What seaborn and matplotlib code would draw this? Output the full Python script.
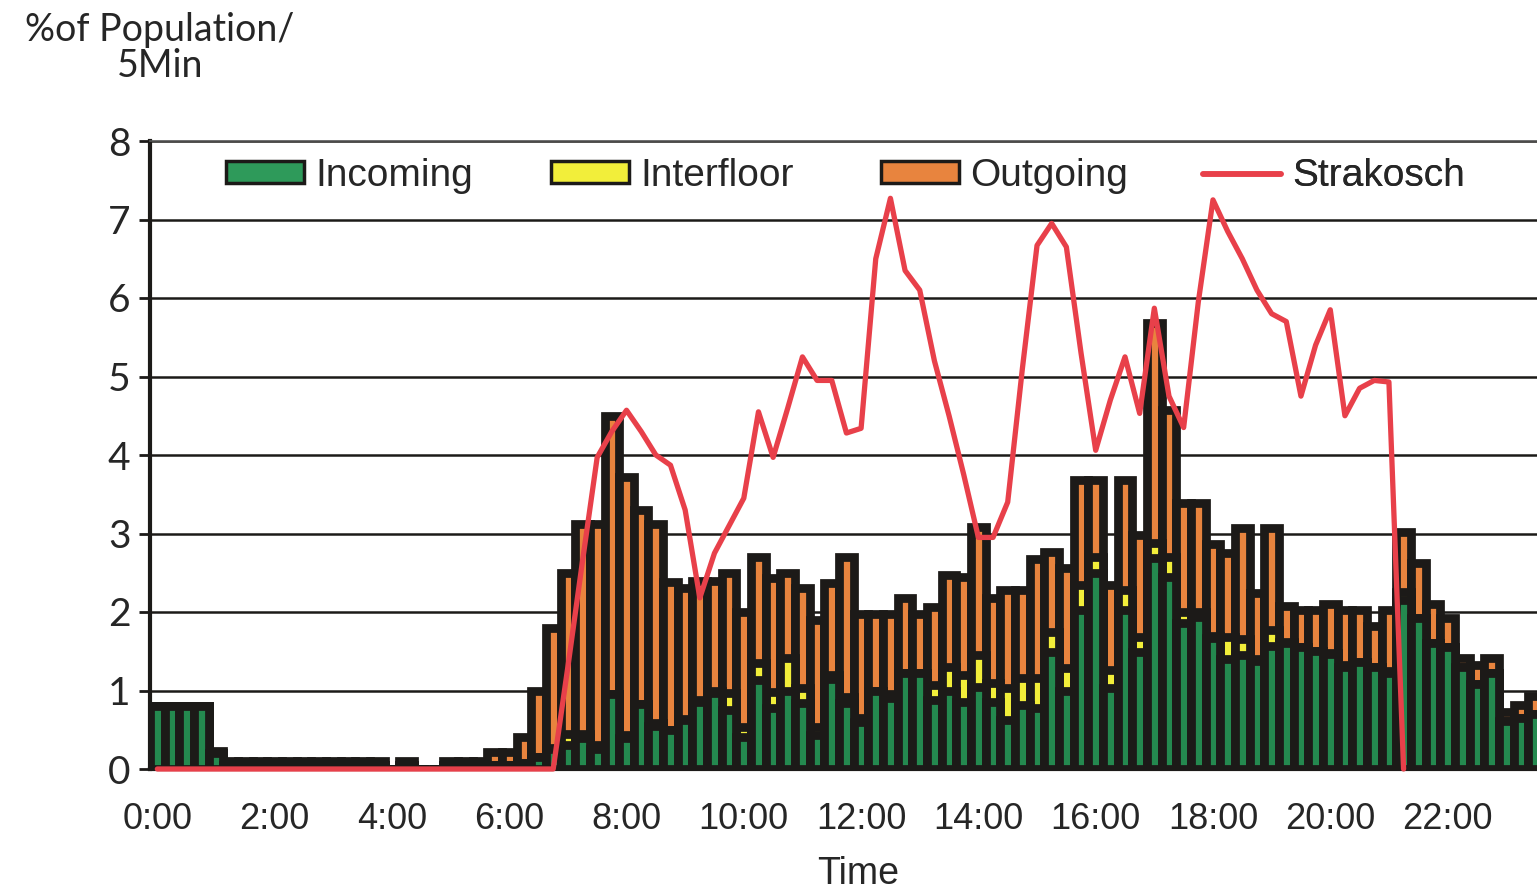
import numpy as np
import pandas as pd
import seaborn as sns
import matplotlib.pyplot as plt
from matplotlib.patches import Patch
from matplotlib.lines import Line2D
from matplotlib.ticker import FixedLocator

# 15-minute slots, values in % of population / 5 min
incoming = [0.80, 0.80, 0.80, 0.80, 0.20, 0.05, 0.05, 0.05, 0.05, 0.05, 0.05, 0.05,
            0.05, 0.05, 0.05, 0.05, 0.00, 0.05, 0.00, 0.00, 0.05, 0.05, 0.05, 0.05,
            0.05, 0.08, 0.15, 0.25, 0.30, 0.40, 0.25, 0.95, 0.40, 0.83, 0.55, 0.50,
            0.62, 0.85, 0.97, 0.75, 0.41, 1.13, 0.78, 1.00, 0.84, 0.43, 1.15, 0.84,
            0.60, 1.00, 0.90, 1.22, 1.22, 0.88, 1.00, 0.85, 1.05, 0.85, 0.62, 0.82,
            0.78, 1.49, 1.00, 2.03, 2.50, 1.03, 2.03, 1.49, 2.69, 2.45, 1.86, 1.93,
            1.67, 1.40, 1.45, 1.37, 1.57, 1.60, 1.55, 1.50, 1.46, 1.30, 1.36, 1.30,
            1.22, 2.15, 1.92, 1.60, 1.55, 1.30, 1.08, 1.22, 0.61, 0.65, 0.70, 0.70]
interfloor = [0.00, 0.00, 0.00, 0.00, 0.00, 0.00, 0.00, 0.00, 0.00, 0.00, 0.00, 0.00,
              0.00, 0.00, 0.00, 0.00, 0.00, 0.00, 0.00, 0.00, 0.00, 0.00, 0.00, 0.00,
              0.00, 0.00, 0.00, 0.02, 0.15, 0.05, 0.06, 0.00, 0.03, 0.00, 0.03, 0.00,
              0.02, 0.03, 0.03, 0.22, 0.13, 0.22, 0.20, 0.41, 0.19, 0.11, 0.05, 0.08,
              0.05, 0.00, 0.05, 0.00, 0.00, 0.19, 0.30, 0.35, 0.40, 0.25, 0.41, 0.34,
              0.38, 0.25, 0.29, 0.31, 0.20, 0.23, 0.25, 0.19, 0.19, 0.25, 0.14, 0.07,
              0.02, 0.28, 0.20, 0.03, 0.20, 0.02, 0.00, 0.00, 0.02, 0.03, 0.00, 0.00,
              0.03, 0.10, 0.00, 0.00, 0.00, 0.00, 0.00, 0.00, 0.00, 0.00, 0.00, 0.00]
outgoing = [0.00, 0.00, 0.00, 0.00, 0.03, 0.05, 0.05, 0.05, 0.05, 0.05, 0.05, 0.05,
            0.05, 0.05, 0.05, 0.05, 0.00, 0.05, 0.00, 0.00, 0.05, 0.05, 0.05, 0.17,
            0.17, 0.33, 0.85, 1.53, 2.05, 2.67, 2.81, 3.55, 3.29, 2.47, 2.54, 1.88,
            1.66, 1.52, 1.40, 1.53, 1.46, 1.35, 1.45, 1.09, 1.27, 1.36, 1.17, 1.78,
            1.33, 0.98, 1.03, 0.96, 0.76, 1.00, 1.17, 1.25, 1.63, 1.08, 1.25, 1.12,
            1.52, 1.03, 1.27, 1.34, 0.98, 1.09, 1.40, 1.30, 2.80, 1.87, 1.39, 1.39,
            1.17, 1.07, 1.42, 0.84, 1.30, 0.46, 0.48, 0.53, 0.62, 0.70, 0.67, 0.52,
            0.78, 0.77, 0.70, 0.50, 0.37, 0.12, 0.25, 0.20, 0.11, 0.17, 0.23, 0.20]
strakosch = [0, 0, 0, 0, 0, 0, 0, 0, 0, 0, 0, 0, 0, 0, 0, 0, 0, 0, 0, 0, 0, 0, 0, 0,
             0, 0, 0, 0, 1.30, 2.65, 3.97, 4.30, 4.57, 4.30, 4.00, 3.87, 3.30, 2.18,
             2.75, 3.10, 3.45, 4.55, 3.97, 4.60, 5.25, 4.95, 4.95, 4.28, 4.34, 6.50,
             7.27, 6.35, 6.10, 5.20, 4.50, 3.75, 2.95, 2.95, 3.40, 5.10, 6.67, 6.95,
             6.65, 5.30, 4.06, 4.70, 5.25, 4.53, 5.87, 4.75, 4.35, 5.95, 7.25, 6.85,
             6.50, 6.10, 5.80, 5.70, 4.75, 5.40, 5.85, 4.50, 4.85, 4.95, 4.93, 0.00]
tick_labels = ['0:00', '2:00', '4:00', '6:00', '8:00', '10:00',
               '12:00', '14:00', '16:00', '18:00', '20:00', '22:00']

df = pd.DataFrame({'slot': np.arange(len(incoming)), 'incoming': incoming,
                   'interfloor': interfloor, 'outgoing': outgoing})
df['in_inter'] = df['incoming'] + df['interfloor']
df['total'] = df['in_inter'] + df['outgoing']
line_df = pd.DataFrame({'slot': np.arange(len(strakosch)), 'strakosch': strakosch})

sns.set_theme(style='white')
plt.rcParams['font.family'] = ['Liberation Sans', 'DejaVu Sans']

green, yellow, orange, red, dark = '#24894f', '#f2ee3a', '#e8843e', '#e8404a', '#1c1a18'

fig = plt.figure(figsize=(15.37, 8.91), dpi=100)
ax = fig.add_axes([150 / 1537, 122 / 891, 1387 / 1537, 628 / 891])

# stacked bars drawn as overlapping cumulative layers
for col, c in [('total', orange), ('in_inter', yellow), ('incoming', green)]:
    sns.barplot(data=df, x='slot', y=col, color=c, saturation=1, width=1.0,
                edgecolor=dark, linewidth=6.3, errorbar=None, ax=ax)

sns.lineplot(data=line_df, x='slot', y='strakosch', color=red, linewidth=3.8,
             zorder=4, clip_on=False, ax=ax)

ax.set_xlim(-0.5, 94.1)
ax.set_ylim(0, 8)
ax.set_axisbelow(True)
ax.yaxis.grid(True, color=dark, linewidth=1.8)
ax.xaxis.grid(False)

ax.set_xticks(np.arange(0, 96, 8))
ax.set_xticklabels(tick_labels, fontsize=26)
ax.xaxis.set_minor_locator(FixedLocator(np.arange(-0.5, 96, 1)))
ax.tick_params(axis='x', which='major', length=0, pad=24)
ax.tick_params(axis='x', which='minor', length=10, width=2.5, color=dark, direction='out')
ax.set_yticks(range(9))
ax.set_yticklabels([str(v) for v in range(9)], fontsize=28, family='Lato')
ax.tick_params(axis='y', length=8, width=2, color=dark, direction='out', pad=6, left=True)
ax.set_xlabel('')
ax.set_ylabel('')

for s in ['left', 'bottom']:
    ax.spines[s].set_color(dark)
    ax.spines[s].set_linewidth(3)
ax.spines['top'].set_color('#555555')
ax.spines['top'].set_linewidth(1.2)
ax.spines['right'].set_visible(False)

handles = [Patch(facecolor='#2e9a5a', edgecolor=dark, linewidth=2.5, label='Incoming'),
           Patch(facecolor=yellow, edgecolor=dark, linewidth=2.5, label='Interfloor'),
           Patch(facecolor=orange, edgecolor=dark, linewidth=2.5, label='Outgoing'),
           Line2D([], [], color=red, linewidth=4, label='Strakosch')]
legend_x = [226, 551, 881, 1203]
for h, lx in zip(handles, legend_x):
    leg = ax.legend(handles=[h], loc='center left',
                    bbox_to_anchor=(lx / 1537, 1 - 176 / 891), bbox_transform=fig.transFigure,
                    frameon=False, fontsize=28, handlelength=2.0, handleheight=0.5,
                    handletextpad=0.3, borderpad=0, borderaxespad=0)
    ax.add_artist(leg)

fig.text(160 / 1537, 1 - 48 / 891, '%of Population/\n5Min', ha='center', va='center',
         fontsize=27, family='Lato', linespacing=1.0)
fig.text(858 / 1537, 1 - 874 / 891, 'Time', ha='center', va='center', fontsize=27)

fig.savefig('out.png', dpi=100)
